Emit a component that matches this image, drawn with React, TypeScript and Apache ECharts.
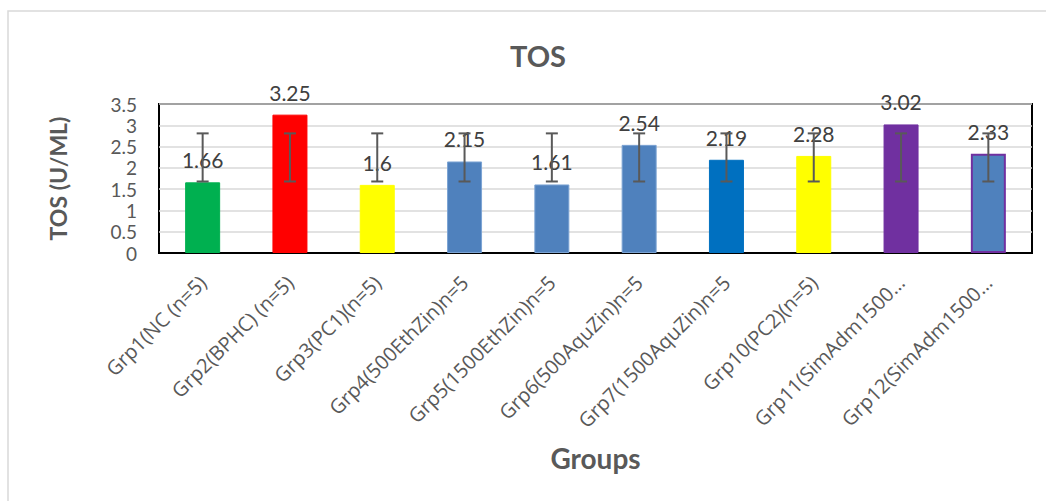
import React, { useEffect, useRef } from "react";
import * as echarts from "echarts";

const categories = [
  "Grp1(NC (n=5)",
  "Grp2(BPHC) (n=5)",
  "Grp3(PC1)(n=5)",
  "Grp4(500EthZin)n=5",
  "Grp5(1500EthZin)n=5",
  "Grp6(500AquZin)n=5",
  "Grp7(1500AquZin)n=5",
  "Grp10(PC2)(n=5)",
  "Grp11(SimAdm1500…",
  "Grp12(SimAdm1500…",
];
const values = [1.66, 3.25, 1.6, 2.15, 1.61, 2.54, 2.19, 2.28, 3.02, 2.33];
const errLow = [1.68, 1.68, 1.68, 1.68, 1.68, 1.68, 1.68, 1.68, 1.68, 1.68];
const errHigh = [2.81, 2.81, 2.81, 2.81, 2.81, 2.81, 2.81, 2.81, 2.81, 2.81];
const barColors = [
  "#00B050",
  "#FF0000",
  "#FFFF00",
  "#4F81BD",
  "#4F81BD",
  "#4F81BD",
  "#0070C0",
  "#FFFF00",
  "#7030A0",
  "#4F81BD",
];
const barBorders = [
  "#00B050",
  "#FF0000",
  "#FFFF00",
  "#7BA3D3",
  "#7BA3D3",
  "#7BA3D3",
  "#0070C0",
  "#FFFF00",
  "#7030A0",
  "#7030A0",
];
const yTicks = { min: 0, max: 3.5, interval: 0.5 };

const FONT = "Lato";
const XFONT = "Open Sans";

export default function App() {
  const ref = useRef<HTMLDivElement>(null);
  useEffect(() => {
    if (!ref.current) return;
    const chart = echarts.init(ref.current, undefined, { renderer: "svg" });
    const option = {
      animation: false,
      backgroundColor: "#fff",
      textStyle: { fontFamily: FONT },
      title: {
        text: "TOS",
        left: 533,
        top: 36,
        textAlign: "center",
        textStyle: { fontFamily: FONT, fontSize: 29, fontWeight: "bold", color: "#595959" },
      },
      graphic: [
        {
          type: "rect",
          shape: { x: 8, y: 11, width: 1100, height: 600 },
          style: { fill: "none", stroke: "#D9D9D9", lineWidth: 1.5 },
          silent: true,
          z: -1,
        },
      ],
      grid: {
        left: 159,
        top: 104,
        right: 14,
        bottom: 248,
        show: true,
        borderColor: "#000",
        borderWidth: 2,
        backgroundColor: "transparent",
        containLabel: false,
      },
      xAxis: {
        type: "category",
        data: categories,
        name: "Groups",
        nameLocation: "middle",
        nameGap: 191,
        nameTextStyle: { fontFamily: FONT, fontSize: 28, fontWeight: "bold", color: "#595959" },
        axisLine: { show: true, lineStyle: { color: "#000", width: 2 } },
        axisTick: { show: false },
        axisLabel: {
          rotate: 45,
          interval: 0,
          margin: 26,
          fontFamily: XFONT,
          fontSize: 20,
          color: "#595959",
        },
      },
      yAxis: {
        type: "value",
        min: yTicks.min,
        max: yTicks.max,
        interval: yTicks.interval,
        name: "TOS (U/ML)",
        nameLocation: "middle",
        nameGap: 90,
        nameTextStyle: { fontFamily: FONT, fontSize: 23, fontWeight: "bold", color: "#595959" },
        axisLine: { show: false },
        axisTick: { show: false },
        axisLabel: { margin: 22, fontFamily: FONT, fontSize: 19, color: "#595959" },
        splitLine: { show: true, lineStyle: { color: "#D9D9D9", width: 1.5 } },
      },
      series: [
        {
          type: "bar",
          barWidth: 35,
          data: values.map((v, i) => ({
            value: v,
            itemStyle: {
              color: barColors[i],
              borderColor: barBorders[i],
              borderWidth: i === 9 ? 2 : 1,
            },
          })),
          label: {
            show: true,
            position: "top",
            distance: 12,
            fontFamily: FONT,
            fontSize: 21,
            color: "#404040",
          },
          z: 2,
        },
        {
          type: "custom",
          z: 5,
          data: errLow.map((lo, i) => [i, lo, errHigh[i]]),
          renderItem: (params: any, api: any) => {
            const x = api.value(0);
            const lo = api.coord([x, api.value(1)]);
            const hi = api.coord([x, api.value(2)]);
            const cap = 6;
            const style = { stroke: "#595959", lineWidth: 2 };
            return {
              type: "group",
              children: [
                { type: "line", shape: { x1: lo[0], y1: lo[1], x2: hi[0], y2: hi[1] }, style },
                { type: "line", shape: { x1: lo[0] - cap, y1: lo[1], x2: lo[0] + cap, y2: lo[1] }, style },
                { type: "line", shape: { x1: hi[0] - cap, y1: hi[1], x2: hi[0] + cap, y2: hi[1] }, style },
              ],
            };
          },
        },
      ],
    };
    chart.setOption(option as any);
    return () => chart.dispose();
  }, []);
  return (
    <div
      ref={ref}
      style={{ position: "absolute", left: 0, top: 0, width: 1046, height: 501 }}
    />
  );
}
